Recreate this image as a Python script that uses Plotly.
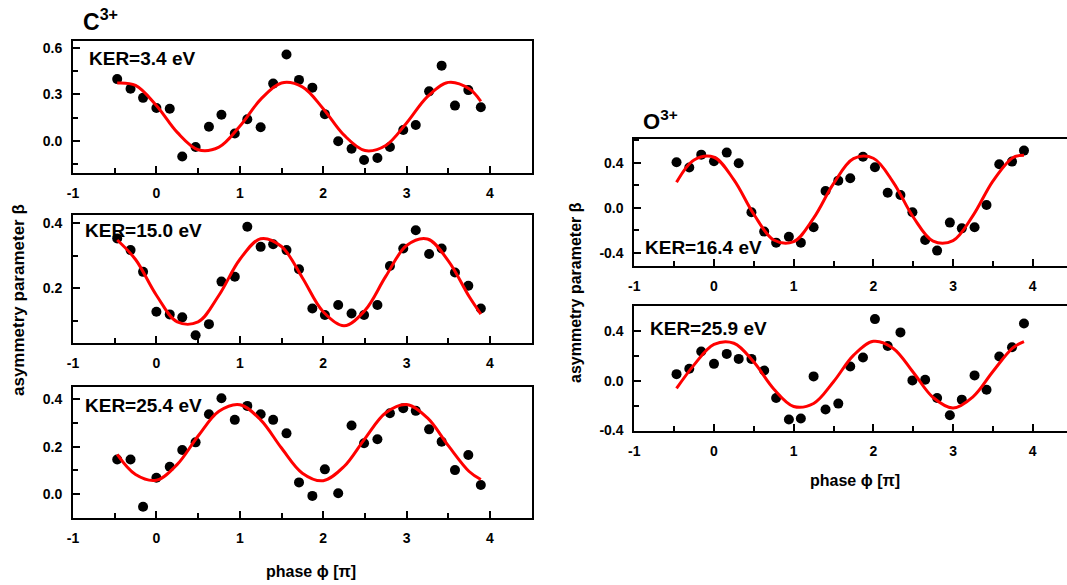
import plotly.graph_objects as go

# ---------------- data ----------------
phase = [-0.47, -0.31, -0.16, 0.0, 0.16, 0.31, 0.47, 0.63, 0.78, 0.94,
         1.09, 1.25, 1.40, 1.56, 1.71, 1.87, 2.02, 2.18, 2.34, 2.49,
         2.65, 2.80, 2.96, 3.11, 3.27, 3.42, 3.58, 3.74, 3.89]

c_ker34 = [0.399, 0.337, 0.278, 0.212, 0.208, -0.100, -0.039, 0.092, 0.169, 0.048,
           0.140, 0.088, 0.370, 0.558, 0.394, 0.344, 0.173, -0.002, -0.050, -0.123,
           -0.110, -0.039, 0.070, 0.103, 0.320, 0.486, 0.228, 0.328, 0.217]
c_ker150 = [0.354, 0.318, 0.251, 0.128, 0.120, 0.111, 0.056, 0.090, 0.221, 0.236,
            0.390, 0.328, 0.336, 0.318, 0.259, 0.138, 0.118, 0.149, 0.123, 0.118,
            0.149, 0.269, 0.323, 0.379, 0.306, 0.323, 0.249, 0.208, 0.138]
c_ker254 = [0.146, 0.146, -0.054, 0.069, 0.115, 0.186, 0.218, 0.337, 0.404, 0.313,
            0.372, 0.337, 0.313, 0.256, 0.049, -0.008, 0.104, 0.003, 0.289, 0.214,
            0.231, 0.341, 0.362, 0.351, 0.273, 0.221, 0.101, 0.165, 0.038]
o_ker164 = [0.403, 0.356, 0.471, 0.412, 0.489, 0.394, -0.041, -0.213, -0.311, -0.258,
            -0.311, -0.175, 0.148, 0.240, 0.261, 0.453, 0.359, 0.133, 0.113, -0.041,
            -0.287, -0.382, -0.133, -0.184, -0.175, 0.024, 0.385, 0.409, 0.507]
o_ker259 = [0.053, 0.096, 0.235, 0.136, 0.216, 0.176, 0.176, 0.083, -0.139, -0.312,
            -0.304, 0.035, -0.232, -0.184, 0.115, 0.187, 0.496, 0.280, 0.389, 0.003,
            0.008, -0.139, -0.277, -0.152, 0.043, -0.072, 0.195, 0.269, 0.461]

# fitted curves, read at these phases
fit_phase = [-0.47, -0.25, 0.0, 0.25, 0.5, 0.75, 1.0, 1.25, 1.5, 1.75,
             2.0, 2.25, 2.5, 2.75, 3.0, 3.25, 3.5, 3.75, 3.89]
fit_c34 = [0.374, 0.359, 0.229, 0.055, -0.057, -0.040, 0.095, 0.268, 0.374, 0.349,
           0.208, 0.037, -0.062, -0.029, 0.116, 0.286, 0.378, 0.337, 0.256]
fit_c150 = [0.349, 0.289, 0.179, 0.097, 0.097, 0.179, 0.289, 0.353, 0.329, 0.233,
            0.128, 0.085, 0.132, 0.237, 0.332, 0.352, 0.285, 0.175, 0.121]
fit_c254 = [0.167, 0.082, 0.058, 0.125, 0.245, 0.349, 0.377, 0.313, 0.194, 0.088,
            0.056, 0.116, 0.234, 0.343, 0.378, 0.321, 0.204, 0.095, 0.061]
fit_o164 = [0.225, 0.424, 0.448, 0.247, -0.059, -0.288, -0.302, -0.093, 0.213, 0.435,
            0.439, 0.225, -0.083, -0.298, -0.293, -0.071, 0.236, 0.444, 0.466]
fit_o259 = [-0.062, 0.128, 0.293, 0.302, 0.150, -0.066, -0.207, -0.183, -0.008, 0.204,
            0.317, 0.260, 0.068, -0.135, -0.219, -0.129, 0.075, 0.265, 0.315]

ker_labels = ["KER=3.4 eV", "KER=15.0 eV", "KER=25.4 eV", "KER=16.4 eV", "KER=25.9 eV"]
x_ticks = [-1, 0, 1, 2, 3, 4]
y_ticks = [[0.0, 0.3, 0.6], [0.2, 0.4], [0.0, 0.2, 0.4], [-0.4, 0.0, 0.4], [-0.4, 0.0, 0.4]]

# ---------------- layout helpers ----------------
W, H = 1067, 585
FONT = "Arial, 'Liberation Sans', sans-serif"

def px_x(x):
    return x / W

def px_y(y):
    return 1 - y / H

panels = [
    dict(y=c_ker34, f=fit_c34, xd=(73, 531.7), yd=(41, 173), yr=[-0.207, 0.645], ym=0.15,
         xr=[-1, 4.5], mirror=True, ker=(87, 59)),
    dict(y=c_ker150, f=fit_c150, xd=(73, 531.7), yd=(215, 343), yr=[0.032, 0.426], ym=0.1,
         xr=[-1, 4.5], mirror=True, ker=(83, 231)),
    dict(y=c_ker254, f=fit_c254, xd=(73, 531.7), yd=(386.7, 517.7), yr=[-0.1, 0.453], ym=0.1,
         xr=[-1, 4.5], mirror=True, ker=(83, 405)),
    dict(y=o_ker164, f=fit_o164, xd=(634.3, 1067), yd=(139, 265.7), yr=[-0.516, 0.61], ym=0.2,
         xr=[-1, 4.43], mirror=False, ker=(643, 247)),
    dict(y=o_ker259, f=fit_o259, xd=(634.3, 1067), yd=(305.7, 430.7), yr=[-0.402, 0.604], ym=0.2,
         xr=[-1, 4.43], mirror=False, ker=(648, 328)),
]

fig = go.Figure()
layout = dict(
    template="none",
    width=W, height=H, autosize=False,
    margin=dict(l=0, r=0, t=0, b=0, pad=0, autoexpand=False),
    paper_bgcolor="white", plot_bgcolor="white",
    showlegend=False,
    font=dict(family=FONT, color="black"),
)
annotations = []

for i, p in enumerate(panels):
    n = i + 1
    xa = "x" if n == 1 else f"x{n}"
    ya = "y" if n == 1 else f"y{n}"
    fig.add_trace(go.Scatter(x=phase, y=p["y"], mode="markers", xaxis=xa, yaxis=ya,
                             marker=dict(color="black", size=10, line=dict(width=0))))
    fig.add_trace(go.Scatter(x=fit_phase, y=p["f"], mode="lines", xaxis=xa, yaxis=ya,
                             line=dict(color="#ff0000", width=3, shape="spline")))
    xkey = "xaxis" if n == 1 else f"xaxis{n}"
    ykey = "yaxis" if n == 1 else f"yaxis{n}"
    layout[xkey] = dict(
        domain=[px_x(p["xd"][0]), px_x(p["xd"][1])], range=p["xr"], anchor=ya,
        automargin=False,
        showgrid=False, zeroline=False, showline=True, linecolor="black", linewidth=2,
        mirror=True, ticks="inside", ticklen=7, tickwidth=2, tickcolor="black",
        tickvals=x_ticks, ticktext=[str(v) for v in x_ticks],
        minor=dict(dtick=0.5, tick0=0, ticks="inside", ticklen=5, tickwidth=2,
                   tickcolor="black", showgrid=False),
        tickfont=dict(family=FONT, size=14, color="black", weight="bold"),
        ticklabelstandoff=6,
    )
    layout[ykey] = dict(
        domain=[px_y(p["yd"][1]), px_y(p["yd"][0])], range=p["yr"], anchor=xa,
        automargin=False,
        showgrid=False, zeroline=False, showline=True, linecolor="black", linewidth=2,
        mirror=p["mirror"], ticks="inside", ticklen=7, tickwidth=2, tickcolor="black",
        tickvals=y_ticks[i], ticktext=[f"{v:.1f}" for v in y_ticks[i]],
        minor=dict(dtick=p["ym"], tick0=0, ticks="inside", ticklen=5, tickwidth=2,
                   tickcolor="black", showgrid=False),
        tickfont=dict(family=FONT, size=14, color="black", weight="bold"),
        ticklabelstandoff=6,
    )
    annotations.append(dict(
        text=ker_labels[i], xref="paper", yref="paper",
        x=px_x(p["ker"][0]), y=px_y(p["ker"][1]), xanchor="left", yanchor="middle",
        showarrow=False, font=dict(family=FONT, size=19, color="black", weight="bold")))

# titles and axis titles
annotations += [
    dict(text="C<sup>3+</sup>", xref="paper", yref="paper", x=px_x(81), y=px_y(20),
         xanchor="left", yanchor="middle", showarrow=False,
         font=dict(family=FONT, size=23, color="black", weight="bold")),
    dict(text="O<sup>3+</sup>", xref="paper", yref="paper", x=px_x(641), y=px_y(120),
         xanchor="left", yanchor="middle", showarrow=False,
         font=dict(family=FONT, size=22, color="black", weight="bold")),
    dict(text="asymmetry parameter β", xref="paper", yref="paper", x=px_x(18), y=px_y(300),
         xanchor="center", yanchor="middle", textangle=-90, showarrow=False,
         font=dict(family=FONT, size=17, color="black", weight="bold")),
    dict(text="asymmetry parameter β", xref="paper", yref="paper", x=px_x(575), y=px_y(293),
         xanchor="center", yanchor="middle", textangle=-90, showarrow=False,
         font=dict(family=FONT, size=16, color="black", weight="bold")),
    dict(text="phase ϕ [π]", xref="paper", yref="paper", x=px_x(311), y=px_y(571),
         xanchor="center", yanchor="middle", showarrow=False,
         font=dict(family=FONT, size=16, color="black", weight="bold")),
    dict(text="phase ϕ [π]", xref="paper", yref="paper", x=px_x(855), y=px_y(480),
         xanchor="center", yanchor="middle", showarrow=False,
         font=dict(family=FONT, size=16, color="black", weight="bold")),
]
layout["annotations"] = annotations
fig.update_layout(**layout)

fig.write_html("out.html",
               config={"displayModeBar": False},
               post_script="document.body.style.margin='0px';document.body.style.overflow='hidden';")
